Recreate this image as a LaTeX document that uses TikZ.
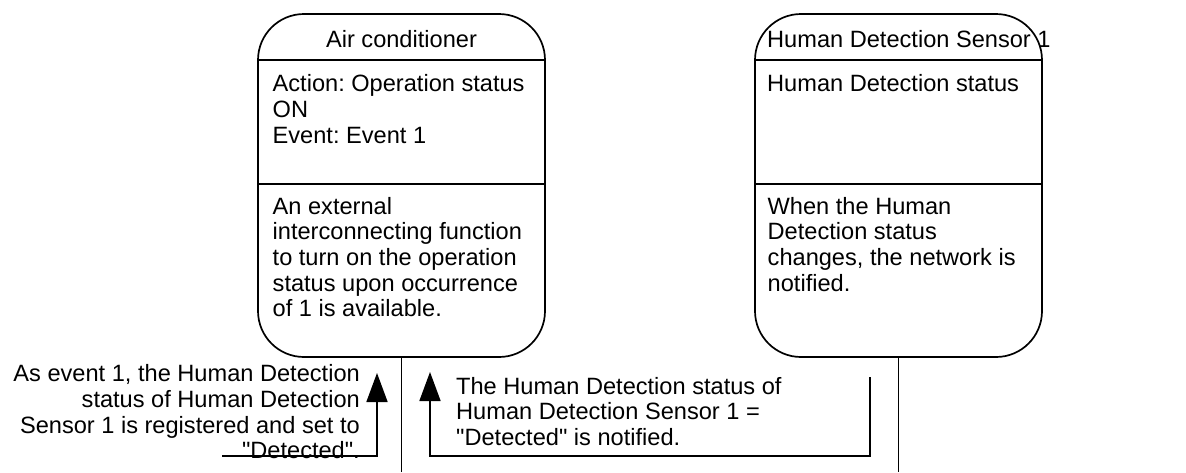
\documentclass[tikz,border=0pt]{standalone}
\usepackage{fontspec}
% plain family: keeps the straight ASCII double quote
\newfontfamily\plainsans{Liberation Sans}
\frenchspacing
\usetikzlibrary{arrows.meta}
\begin{document}
\begin{tikzpicture}[x=1pt,y=-1pt,
  every node/.style={font=\plainsans\fontsize{23.6}{25.7}\selectfont, inner sep=0pt},
  objbox/.style={draw, line width=1.7pt, rounded corners=46pt,
                 minimum width=287pt, minimum height=343pt},
  part/.style={line width=1.7pt},
  txt/.style={align=left, anchor=base west},
  flow/.style={line width=1.7pt, -{Triangle[length=29pt,width=21pt]}}
]
\useasboundingbox (0,0) rectangle (1186,472);

% object boxes
\node[objbox] (ac) at (401.5,185.5) {};
\node[objbox] (hs) at (898.5,185.5) {};

% compartment separators
\draw[part] (ac.west |- 0,60) -- (ac.east |- 0,60);
\draw[part] (ac.west |- 0,184) -- (ac.east |- 0,184);
\draw[part] (hs.west |- 0,60) -- (hs.east |- 0,60);
\draw[part] (hs.west |- 0,184) -- (hs.east |- 0,184);

% box texts (multi-line nodes are placed by the baseline of their last line)
\node[anchor=base] (achead) at (401.5,47) {Air conditioner};
\node[txt] (acact) at (272.5,143.1) {Action: Operation status\\ON\\Event: Event 1};
\node[txt] (acdesc) at (272.5,316.8) {An external\\interconnecting function\\to turn on the operation\\status upon occurrence\\of 1 is available.};

\node[anchor=base west] (hshead) at (767,47) {Human Detection Sensor 1};
\node[txt] (hsact) at (767,91.7) {Human Detection status};
\node[txt] (hsdesc) at (767.5,291.1) {When the Human\\Detection status\\changes, the network is\\notified.};

% lines leaving the boxes downwards
\coordinate (acend) at (ac.south |- 0,472);
\coordinate (hsend) at (hs.south |- 0,472);
\draw[part] (ac.south) -- (acend);
\draw[part] (hs.south) -- (hsend);

% notes
\node[align=right, anchor=base east] (note1) at (360,458.8)
  {As event 1, the Human Detection\\status of Human Detection\\Sensor 1 is registered and set to\\"Detected".};
\node[txt] (note2) at (456,445.4)
  {The Human Detection status of\\Human Detection Sensor 1 =\\"Detected" is notified.};

% message arrows
\coordinate (f1s) at (222,456);
\coordinate (f1c) at (377,456);
\coordinate (f1e) at (377,373);
\draw[flow] (f1s) -- (f1c) -- (f1e);

\coordinate (f2s) at (870,377);
\coordinate (f2c) at (870,456);
\coordinate (f2d) at (430,456);
\coordinate (f2e) at (430,372);
\draw[flow] (f2s) -- (f2c) -- (f2d) -- (f2e);
\end{tikzpicture}
\end{document}
